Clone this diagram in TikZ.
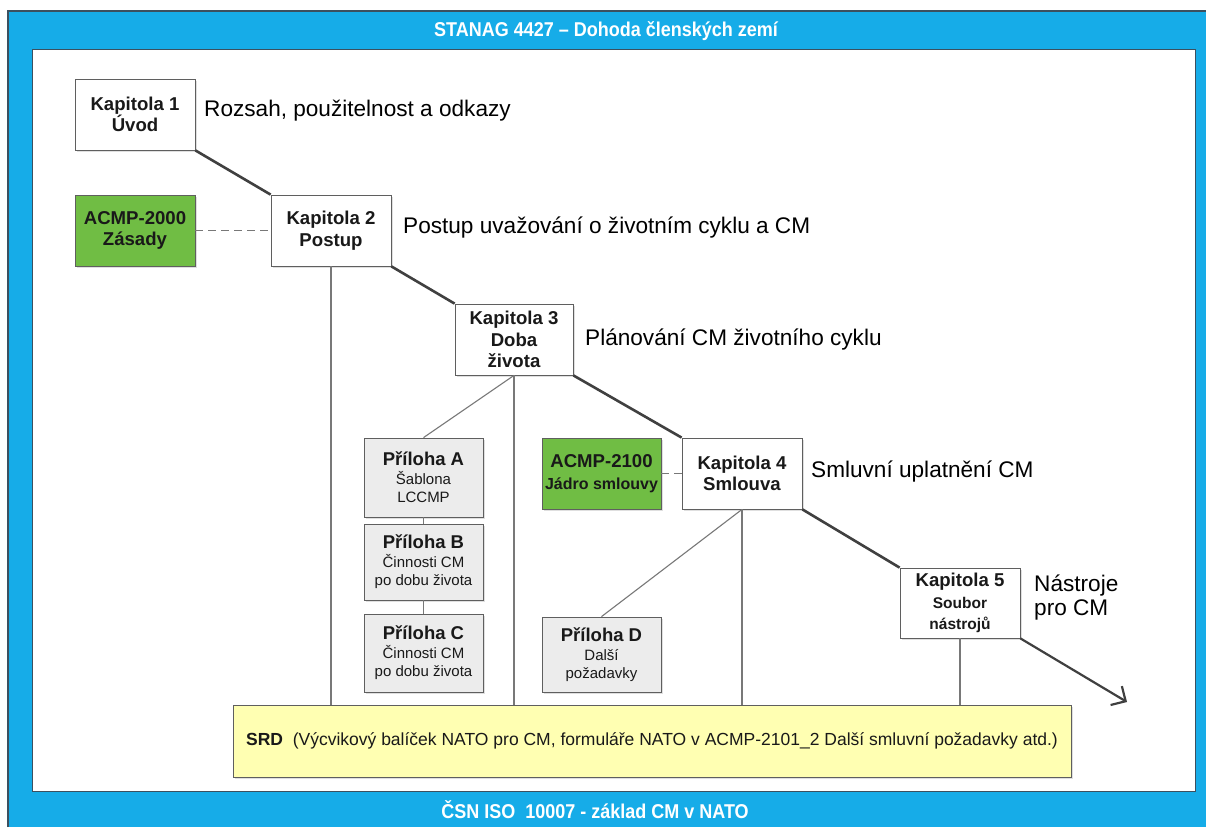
\documentclass[tikz,border=0pt]{standalone}
\usepackage{fontspec}
\setmainfont{Liberation Sans}
\newfontfamily\narrowfont[FakeStretch=0.9]{Liberation Sans}
\usetikzlibrary{arrows.meta,shadows,calc}

\definecolor{frameblue}{RGB}{22,172,232}
\definecolor{frameedge}{RGB}{60,80,95}
\definecolor{leafgreen}{RGB}{112,189,68}
\definecolor{annexgray}{RGB}{236,236,236}
\definecolor{srdyellow}{RGB}{255,255,178}
\definecolor{boxline}{RGB}{95,95,95}
\definecolor{linkdark}{RGB}{64,64,64}
\definecolor{linkthin}{RGB}{120,120,120}

\tikzset{
  box/.style={draw=boxline, line width=0.8pt, fill=white, align=center,
    inner sep=0pt, text=black!90,
    drop shadow={opacity=0.25, shadow xshift=1.5pt, shadow yshift=-1.5pt}},
  chapter/.style={box, minimum width=120pt, minimum height=71pt,
    font=\bfseries\fontsize{18.6}{21.5}\selectfont},
  basedoc/.style={chapter, fill=leafgreen},
  annex/.style={box, fill=annexgray, minimum width=119pt, minimum height=78pt,
    font=\fontsize{15}{18}\selectfont},
  topic/.style={anchor=west, inner sep=0pt, font=\fontsize{22.6}{25}\selectfont},
  banner/.style={text=white, font=\narrowfont\bfseries\fontsize{20}{23}\selectfont},
  mainlink/.style={draw=linkdark, line width=2.6pt},
  sublink/.style={draw=linkthin, line width=1.1pt},
  peerlink/.style={draw=linkthin, line width=1.1pt, dash pattern=on 8pt off 5pt},
}
\newcommand\annextitle[1]{{\bfseries\fontsize{18.5}{22}\selectfont #1}\\[1pt]}

\begin{document}
\begin{tikzpicture}[x=1pt, y=-1pt]
  \useasboundingbox (0,0) rectangle (1206,827);

  % blue frame with the white working area
  \fill[frameblue] (8,11) rectangle (1206,827);
  \draw[frameedge, line width=1.2pt] (8,827) -- (8,11) -- (1206,11);
  \fill[white] (32,49) rectangle (1195,791);
  \draw[frameedge, line width=1pt] (32,49) rectangle (1195,791);

  \node[banner] (header) at (606,31) {STANAG 4427 – Dohoda členských zemí};
  \node[banner] (footer) at (595,810) {ČSN ISO\ \ 10007 - základ CM v NATO};

  % chapters
  \node[chapter] (k1) at (135,114.5) {Kapitola 1\\Úvod};
  \node[chapter] (k2) at (331,230.5) {Kapitola 2\\Postup};
  \node[chapter, minimum width=118pt] (k3) at (514,339.5) {Kapitola 3\\Doba\\života};
  \node[chapter] (k4) at (742,473.5) {Kapitola 4\\Smlouva};
  \node[chapter, minimum height=70pt] (k5) at (960,603)
    {Kapitola 5\\{\fontsize{15.5}{18}\selectfont Soubor}\\{\fontsize{15.5}{18}\selectfont nástrojů}};

  % base documents
  \node[basedoc] (a2000) at (135,230.5) {ACMP-2000\\Zásady};
  \node[basedoc, minimum width=119pt] (a2100) at (601.5,473.5)
    {ACMP-2100\\{\fontsize{16}{20}\selectfont Jádro smlouvy}};

  % annexes
  \node[annex, minimum height=79pt] (pa) at (423.5,477.5)
    {\annextitle{Příloha A}Šablona\\LCCMP};
  \node[annex, minimum height=76pt] (pb) at (423.5,562)
    {\annextitle{Příloha B}Činnosti CM\\po dobu života};
  \node[annex] (pc) at (423.5,653)
    {\annextitle{Příloha C}Činnosti CM\\po dobu života};
  \node[annex, minimum height=75pt] (pd) at (601.5,654.5)
    {\annextitle{Příloha D}Další\\požadavky};

  % supporting documents
  \node[box, fill=srdyellow, minimum width=838pt, minimum height=72pt,
        font=\fontsize{17.5}{20}\selectfont] (srd) at (652,741)
    {{\bfseries SRD}\ \ (Výcvikový balíček NATO pro CM, formuláře NATO v ACMP-2101\_2 Další smluvní požadavky atd.)};

  % chapter topics
  \node[topic] (t1) at (204,111) {Rozsah, použitelnost a odkazy};
  \node[topic] (t2) at (403,228) {Postup uvažování o životním cyklu a CM};
  \node[topic] (t3) at (585,340) {Plánování CM životního cyklu};
  \node[topic] (t4) at (811,472) {Smluvní uplatnění CM};
  \node[topic, align=left, font=\fontsize{22.6}{24}\selectfont] (t5) at (1034,598) {Nástroje\\pro CM};

  % main sequence of chapters
  \draw[mainlink] (k1.south east) -- (k2.north west);
  \draw[mainlink] (k2.south east) -- (k3.north west);
  \draw[mainlink] (k3.south east) -- (k4.north west);
  \draw[mainlink] (k4.south east) -- (k5.north west);
  \coordinate (outlook) at (1127,702);
  \draw[mainlink, line width=2.2pt, -{Straight Barb[length=11pt, width=22pt, line width=2.2pt]}]
    (k5.south east) -- (outlook);

  % base documents beside their chapters
  \draw[peerlink] (a2000.east) -- (k2.west);
  \draw[peerlink] (a2100.east) -- (k4.west);

  % chapters down to the supporting documents
  \draw[sublink] (k2.south) -- (k2.south |- srd.north);
  \draw[sublink] (k3.south) -- (k3.south |- srd.north);
  \draw[sublink] (k4.south) -- (k4.south |- srd.north);
  \draw[sublink] (k5.south) -- (k5.south |- srd.north);

  % annexes
  \draw[sublink] (k3.south) -- (pa.north);
  \draw[sublink] (pa.south) -- (pb.north);
  \draw[sublink] (pb.south) -- (pc.north);
  \draw[sublink] (k4.south) -- (pd.north);
\end{tikzpicture}
\end{document}
